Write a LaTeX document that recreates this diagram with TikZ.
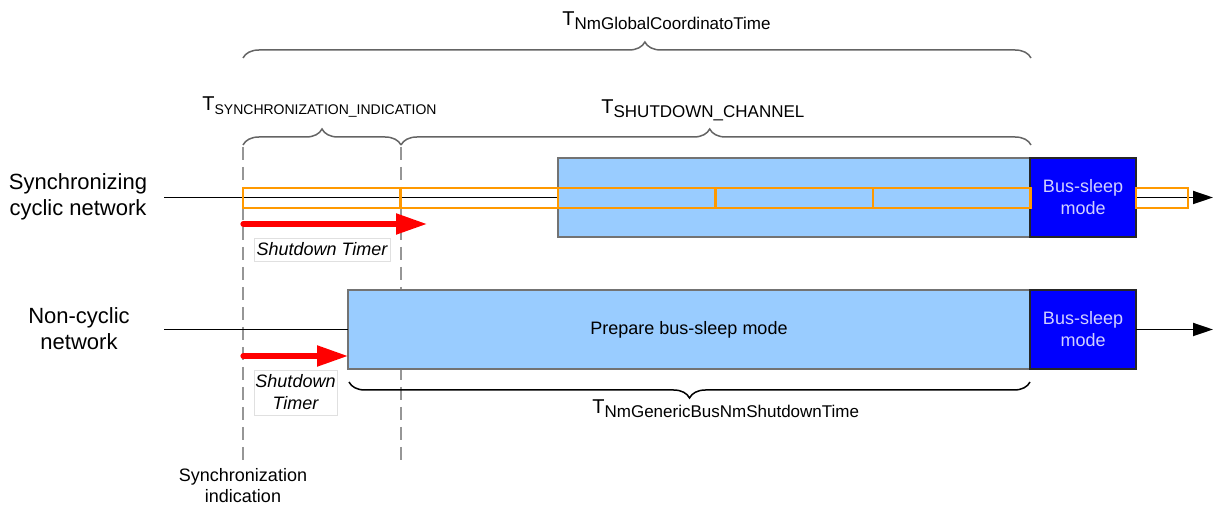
\documentclass[tikz,border=0pt]{standalone}
\usepackage{fontspec}
\setmainfont{Liberation Sans}
\usetikzlibrary{decorations.pathreplacing,arrows.meta,positioning}

\definecolor{chanblue}{RGB}{153,204,255}
\definecolor{sleepblue}{RGB}{0,0,255}
\definecolor{slotorange}{RGB}{255,153,0}
\definecolor{guidegray}{RGB}{150,150,150}
\definecolor{bracegray}{RGB}{100,100,100}

\newcommand\Tspan[2][8.5]{T\raisebox{-2pt}{\fontsize{#1}{10}\selectfont #2}}

\begin{document}
\begin{tikzpicture}[x=0.5pt, y=-0.5pt, font=\fontsize{9}{11}\selectfont,
  phase/.style={draw=black!55, line width=1pt, fill=chanblue, minimum height=39.5pt, inner sep=0pt, outer sep=0pt, anchor=north west},
  sleepbox/.style={draw=black!85, line width=1pt, fill=sleepblue, text=white!82!blue, minimum width=53pt, minimum height=39.5pt, inner sep=0pt, outer sep=0pt, anchor=north west, align=center},
  slotbox/.style={draw=slotorange, line width=1.1pt},
  guide/.style={guidegray, line width=1pt, dash pattern=on 6.5pt off 3.5pt},
  timer/.style={red, line width=2.6pt, line cap=round, -{Triangle[length=15.5pt,width=10pt]}},
  timeline/.style={black, line width=0.9pt, -{Triangle[length=10pt,width=6.5pt]}},
  period/.style={decorate, decoration={brace, amplitude=8pt}, bracegray, line width=0.75pt},
  tlabel/.style={inner sep=0pt, anchor=base west, font=\fontsize{10}{12}\selectfont},
  timerlabel/.style={draw=black!12, fill=white, font=\fontsize{9}{11}\selectfont\itshape, align=center, inner sep=0pt}]

\useasboundingbox (0,0) rectangle (1213,506);

\def \slot {157.5} % width of one orange slot in px
\def \indx {243}
\def \chx {401}

% guides
\draw[guide] (\indx,147) -- (\indx,462);
\draw[guide] (\chx,147) -- (\chx,462);

% timelines
\coordinate (syncstart) at (164,197.5);
\coordinate (syncend) at (1213,197.5);
\coordinate (ncstart) at (164,329.5);
\coordinate (ncend) at (1213,329.5);
\draw[timeline] (syncstart) -- (syncend);

\begin{scope}[every node/.style={align=center, font=\fontsize{11}{13}\selectfont}]
\node (synclab) at (78,197) {Synchronizing\\cyclic network};
\node (nclab) at (79,328.5) {Non-cyclic\\network};
\end{scope}

\node[phase, minimum width=236pt] (syncchan) at (558,158) {};
\node[sleepbox] (syncsleep) at (syncchan.north east) {Bus-sleep\\mode};
\node[phase, minimum width=341pt] (prep) at (348,290) {Prepare bus-sleep mode};
\node[sleepbox] (ncsleep) at (prep.north east) {Bus-sleep\\mode};

\draw[black, line width=0.9pt] (ncstart) -- (ncstart -| prep.west);
\draw[timeline] (ncsleep.east |- ncend) -- (ncend);

\foreach \s in {0,...,4}
  \draw[slotbox] ({\indx+\slot*\s},188) rectangle ++(\slot,20);
\draw[slotbox] (syncsleep.east |- 0,188) rectangle (1188,208);

% shutdown timers
\coordinate (synctimer) at (\indx,224);
\coordinate (nctimer) at (\indx,356);
\draw[timer] (synctimer) -- (427,224);
\draw[timer] (nctimer) -- (nctimer -| prep.west);

\node[timerlabel, minimum width=68pt, minimum height=11.5pt] (synctimerlab) at (322,249.5) {Shutdown Timer};
\node[timerlabel, minimum width=41.5pt, minimum height=22.5pt] (nctimerlab) at (295.5,392.5) {Shutdown\\Timer};

\node[align=center, font=\fontsize{9}{10.5}\selectfont] (syncind) at (\indx,486) {Synchronization\\indication};

% periods
\draw[period, decoration={aspect=0.51}] (\indx,58) -- (1031,58);
\draw[period] (\indx,145) -- (\chx,145);
\draw[period, decoration={aspect=0.49}] (\chx,145) -- (1031,145);
\draw[period, black] (1030,382) -- (349,382);

\node[tlabel] (tglobal) at (562,26) {\Tspan{NmGlobalCoordinatoTime}};
\node[tlabel] (tsyncind) at (202,111) {\Tspan[7]{SYNCHRONIZATION\_INDICATION}};
\node[tlabel] (tchannel) at (601,114) {\Tspan{SHUTDOWN\_CHANNEL}};
\node[tlabel] (tgeneric) at (592,414) {\Tspan{NmGenericBusNmShutdownTime}};

\end{tikzpicture}
\end{document}
